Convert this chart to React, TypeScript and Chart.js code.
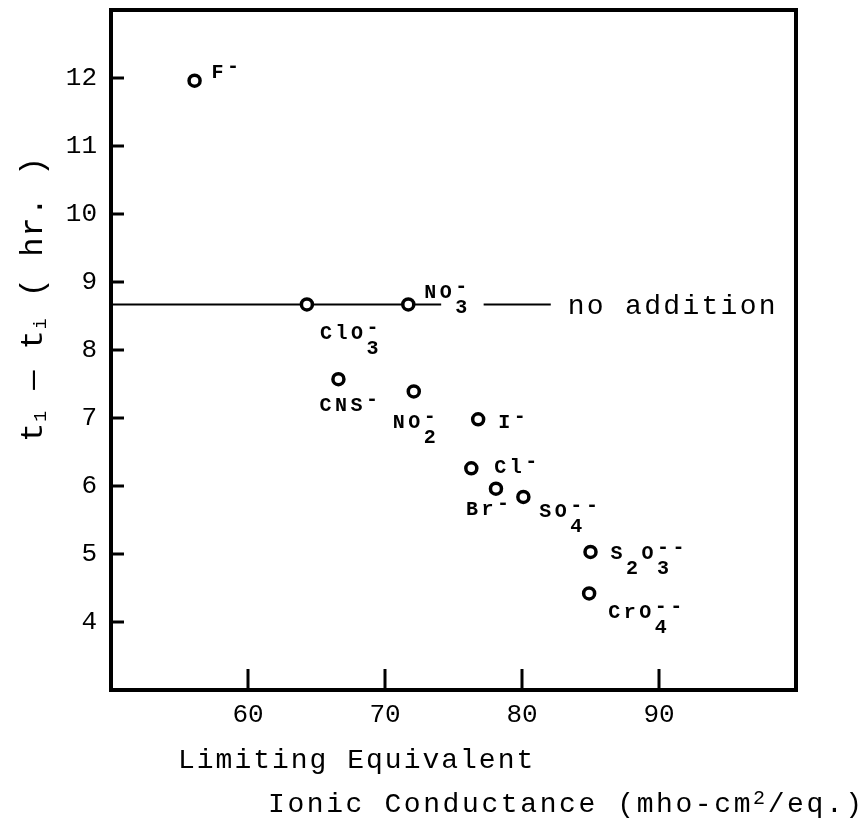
import React, { useEffect, useRef } from "react";
import { Chart, registerables } from "chart.js";

Chart.register(...registerables);

// ---------- data ----------
const ionNames = ["F^-", "ClO_3^-", "NO_3^-", "CNS^-", "NO_2^-", "I^-", "Cl^-", "Br^-", "SO_4^--", "S_2O_3^--", "CrO_4^--"];
const conductance = [56.1, 64.3, 71.7, 66.6, 72.1, 76.8, 76.3, 78.1, 80.1, 85.0, 84.9];
const timeDiff = [11.96, 8.67, 8.67, 7.57, 7.39, 6.98, 6.26, 5.96, 5.84, 5.03, 4.42];
const noAdditionValue = 8.67;
const noAdditionSpans = [
  [50, 74.1],
  [77.2, 82.1],
];
const noAdditionLabel = "no addition";
const xTickValues = [60, 70, 80, 90];
const yTickValues = [4, 5, 6, 7, 8, 9, 10, 11, 12];
const xRange = [50, 100];
const yRange = [3, 13];
const xTitleLines = ["Limiting Equivalent", "Ionic Conductance (mho-cm^2/eq.)"];
const yTitle = "t_1 \u2014 t_i ( hr. )";

// ---------- layout (pixel offsets of annotations) ----------
const labelOffsets: [number, number][] = [
  [17, -3],
  [13, 35],
  [16, -6],
  [-19, 32],
  [-21, 37],
  [20, 9],
  [23, 5],
  [-30, 26],
  [16, 20],
  [20, 7],
  [19, 25],
];

const FAMILY = '"Liberation Mono", "DejaVu Sans Mono", monospace';

type Tok = { text: string; kind: "n" | "sub" | "sup" };

function parseRich(s: string): Tok[] {
  const out: Tok[] = [];
  let i = 0;
  let buf = "";
  const flush = () => {
    if (buf) out.push({ text: buf, kind: "n" });
    buf = "";
  };
  while (i < s.length) {
    const c = s[i];
    if (c === "_") {
      flush();
      out.push({ text: s[i + 1], kind: "sub" });
      i += 2;
    } else if (c === "^") {
      flush();
      let j = i + 1;
      let t = "";
      while (j < s.length && /[-0-9]/.test(s[j])) {
        t += s[j];
        j++;
      }
      out.push({ text: t, kind: "sup" });
      i = j;
    } else {
      buf += c;
      i++;
    }
  }
  flush();
  return out;
}

type RichOpts = {
  size: number;
  spacing: number;
  subSize: number;
  subDrop: number;
  supSize: number;
  supRise: number;
  weight?: string;
};

function drawRich(ctx: CanvasRenderingContext2D, s: string, x: number, y: number, o: RichOpts) {
  const toks = parseRich(s);
  let cur = x;
  let lastSubStart: number | null = null;
  let lastSubEnd = x;
  ctx.textAlign = "left";
  ctx.textBaseline = "alphabetic";
  const w = o.weight || "normal";
  const drawChars = (text: string, px: number, py: number, size: number) => {
    ctx.font = `${w} ${size}px ${FAMILY}`;
    let p = px;
    for (const ch of text) {
      ctx.fillText(ch, p, py);
      p += ctx.measureText(ch).width + o.spacing;
    }
    return p;
  };
  for (const t of toks) {
    if (t.kind === "n") {
      cur = drawChars(t.text, cur, y, o.size);
      lastSubStart = null;
    } else if (t.kind === "sub") {
      lastSubStart = cur;
      cur = drawChars(t.text, cur, y + o.subDrop, o.subSize);
      lastSubEnd = cur;
    } else {
      const start = lastSubStart !== null ? lastSubStart : cur;
      const end = drawChars(t.text, start, y - o.supRise, o.supSize);
      cur = Math.max(end, lastSubStart !== null ? lastSubEnd : cur);
      lastSubStart = null;
    }
  }
  return cur;
}

const annotationPlugin = {
  id: "annotations",
  beforeDraw(chart: any) {
    const ctx = chart.ctx as CanvasRenderingContext2D;
    ctx.save();
    ctx.fillStyle = "#fff";
    ctx.fillRect(0, 0, chart.width, chart.height);
    ctx.restore();
  },
  afterDraw(chart: any) {
    const ctx = chart.ctx as CanvasRenderingContext2D;
    const { left, right, top, bottom } = chart.chartArea;
    const xs = chart.scales.x;
    const ys = chart.scales.y;
    ctx.save();
    ctx.strokeStyle = "#000";
    ctx.fillStyle = "#000";
    ctx.lineCap = "butt";

    // frame
    ctx.lineWidth = 4;
    ctx.strokeRect(left, top, right - left, bottom - top);

    // inward ticks
    ctx.lineWidth = 3;
    for (const v of yTickValues) {
      const py = ys.getPixelForValue(v);
      ctx.beginPath();
      ctx.moveTo(left, py);
      ctx.lineTo(left + 13, py);
      ctx.stroke();
    }
    for (const v of xTickValues) {
      const px = xs.getPixelForValue(v);
      ctx.beginPath();
      ctx.moveTo(px, bottom);
      ctx.lineTo(px, bottom - 21);
      ctx.stroke();
    }

    // ion labels
    const labelOpts: RichOpts = { size: 20, spacing: 3.5, subSize: 20, subDrop: 15, supSize: 20, supRise: 6, weight: "bold" };
    ionNames.forEach((name, i) => {
      const px = xs.getPixelForValue(conductance[i]);
      const py = ys.getPixelForValue(timeDiff[i]);
      const [dx, dy] = labelOffsets[i];
      drawRich(ctx, name, px + dx, py + dy, labelOpts);
    });

    // "no addition" text
    const lineY = ys.getPixelForValue(noAdditionValue);
    const lastSpanEnd = xs.getPixelForValue(noAdditionSpans[noAdditionSpans.length - 1][1]);
    drawRich(ctx, noAdditionLabel, lastSpanEnd + 17, lineY + 10, {
      size: 28, spacing: 2.3, subSize: 20, subDrop: 0, supSize: 20, supRise: 0,
    });

    // x-axis title (two lines)
    drawRich(ctx, xTitleLines[0], 178, bottom + 78, { size: 28, spacing: 2, subSize: 20, subDrop: 6, supSize: 20, supRise: 8 });
    drawRich(ctx, xTitleLines[1], 268, bottom + 122, { size: 28, spacing: 2.6, subSize: 20, subDrop: 6, supSize: 20, supRise: 8 });

    // y-axis title (rotated)
    ctx.translate(42, (top + bottom) / 2 + 92);
    ctx.rotate(-Math.PI / 2);
    drawRich(ctx, yTitle, 0, 0, { size: 32, spacing: 1, subSize: 18, subDrop: 4, supSize: 18, supRise: 8 });
    ctx.restore();
  },
};

export default function App() {
  const ref = useRef<HTMLCanvasElement>(null);
  useEffect(() => {
    document.body.style.margin = "0";
    const canvas = ref.current!;
    const points = conductance.map((x, i) => ({ x, y: timeDiff[i] }));
    const lineData: { x: number; y: number | null }[] = [];
    noAdditionSpans.forEach((span, i) => {
      if (i > 0) lineData.push({ x: (noAdditionSpans[i - 1][1] + span[0]) / 2, y: null });
      lineData.push({ x: span[0], y: noAdditionValue });
      lineData.push({ x: span[1], y: noAdditionValue });
    });
    const tickFont = { family: FAMILY, size: 26 };
    const chart = new Chart(canvas, {
      type: "scatter",
      data: {
        datasets: [
          {
            label: "ions",
            data: points,
            pointRadius: 5.5,
            pointBorderWidth: 3.5,
            pointBackgroundColor: "#fff",
            pointBorderColor: "#000",
            showLine: false,
            order: 0,
          },
          {
            label: "no addition",
            type: "line",
            data: lineData as any,
            borderColor: "#000",
            borderWidth: 2,
            pointRadius: 0,
            spanGaps: false,
            showLine: true,
            fill: false,
            order: 1,
          } as any,
        ],
      },
      options: {
        responsive: false,
        animation: false,
        devicePixelRatio: 1,
        layout: { padding: { top: 10, right: 71, left: 0, bottom: 0 } },
        plugins: { legend: { display: false }, tooltip: { enabled: false } },
        scales: {
          x: {
            type: "linear",
            min: xRange[0],
            max: xRange[1],
            afterBuildTicks: (s: any) => {
              s.ticks = xTickValues.map((v) => ({ value: v }));
            },
            afterFit: (s: any) => {
              s.height = 142;
              s.paddingLeft = 0;
              s.paddingRight = 0;
            },
            grid: { display: false, drawTicks: false },
            border: { display: false },
            ticks: { font: tickFont, color: "#000", padding: 10, maxRotation: 0, autoSkip: false },
          },
          y: {
            type: "linear",
            min: yRange[0],
            max: yRange[1],
            afterBuildTicks: (s: any) => {
              s.ticks = yTickValues.map((v) => ({ value: v }));
            },
            afterFit: (s: any) => {
              s.width = 111;
              s.paddingTop = 0;
              s.paddingBottom = 0;
            },
            grid: { display: false, drawTicks: false },
            border: { display: false },
            ticks: { font: tickFont, color: "#000", padding: 14, autoSkip: false },
          },
        },
      },
      plugins: [annotationPlugin],
    });
    return () => chart.destroy();
  }, []);
  return <canvas ref={ref} width={867} height={832} style={{ display: "block" }} />;
}
